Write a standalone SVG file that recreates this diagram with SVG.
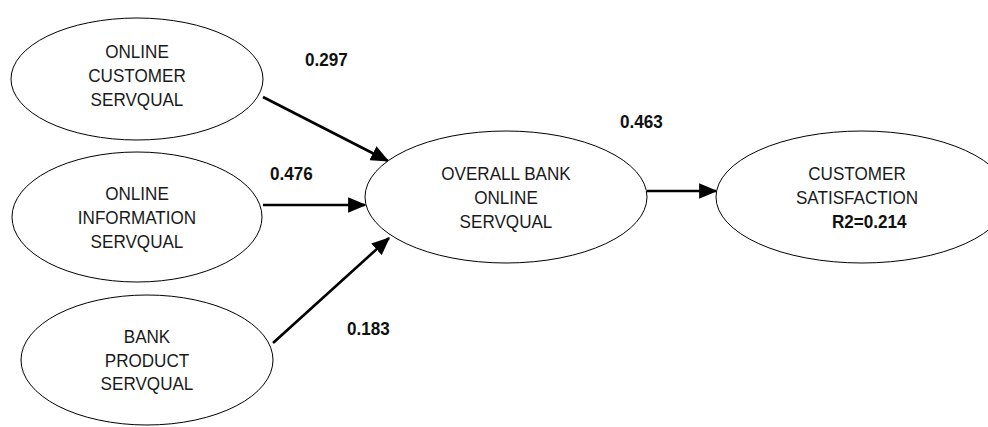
<svg xmlns="http://www.w3.org/2000/svg" width="988" height="427" viewBox="0 0 988 427">
<style>
.n{fill:#fff;stroke:#000;stroke-width:1}
.t{font-family:"Liberation Sans",Arial,sans-serif;font-size:19px;fill:#1a1a1a;text-anchor:middle}
.b{font-family:"Liberation Sans",Arial,sans-serif;font-size:19px;font-weight:bold;fill:#111}
.c{stroke:#000;stroke-width:2.6;fill:none;marker-end:url(#ah)}
</style>
<defs>
<marker id="ah" markerWidth="7" markerHeight="6" refX="6.5" refY="3" orient="auto" markerUnits="strokeWidth">
<path d="M0,0 L7,3 L0,6 Z" fill="#000"/>
</marker>
</defs>
<rect width="988" height="427" fill="#fff"/>
<g id="connectors">
<line class="c" x1="263" y1="97" x2="388" y2="161"/>
<line class="c" x1="263" y1="205" x2="365" y2="205"/>
<line class="c" x1="273" y1="343" x2="389" y2="238"/>
<line class="c" x1="647" y1="191" x2="716" y2="191"/>
</g>
<g id="online-customer">
<ellipse class="n" cx="137" cy="79" rx="126" ry="61"/>
<text class="t" transform="translate(137,58) scale(0.9,1)">ONLINE</text>
<text class="t" transform="translate(137,82) scale(0.9,1)">CUSTOMER</text>
<text class="t" transform="translate(137,106) scale(0.9,1)">SERVQUAL</text>
</g>
<g id="online-information">
<ellipse class="n" cx="137" cy="217" rx="125" ry="65"/>
<text class="t" transform="translate(137,200) scale(0.9,1)">ONLINE</text>
<text class="t" transform="translate(137,224) scale(0.9,1)">INFORMATION</text>
<text class="t" transform="translate(137,248) scale(0.9,1)">SERVQUAL</text>
</g>
<g id="bank-product">
<ellipse class="n" cx="147" cy="360" rx="126" ry="65"/>
<text class="t" transform="translate(147,343) scale(0.9,1)">BANK</text>
<text class="t" transform="translate(147,367) scale(0.9,1)">PRODUCT</text>
<text class="t" transform="translate(147,390) scale(0.9,1)">SERVQUAL</text>
</g>
<g id="overall-bank">
<ellipse class="n" cx="506" cy="197" rx="141" ry="66"/>
<text class="t" transform="translate(506,180) scale(0.9,1)">OVERALL BANK</text>
<text class="t" transform="translate(506,204) scale(0.9,1)">ONLINE</text>
<text class="t" transform="translate(506,228) scale(0.9,1)">SERVQUAL</text>
</g>
<g id="customer-satisfaction">
<ellipse class="n" cx="862" cy="197" rx="146" ry="66"/>
<text class="t" transform="translate(857,180) scale(0.9,1)">CUSTOMER</text>
<text class="t" transform="translate(857,204) scale(0.9,1)">SATISFACTION</text>
<text class="b" transform="translate(832,228) scale(0.9,1)">R2=0.214</text>
</g>
<g id="labels">
<text class="b" transform="translate(305,66) scale(0.9,1)">0.297</text>
<text class="b" transform="translate(270,180) scale(0.9,1)">0.476</text>
<text class="b" transform="translate(347,335) scale(0.9,1)">0.183</text>
<text class="b" transform="translate(620,128) scale(0.9,1)">0.463</text>
</g>
</svg>
